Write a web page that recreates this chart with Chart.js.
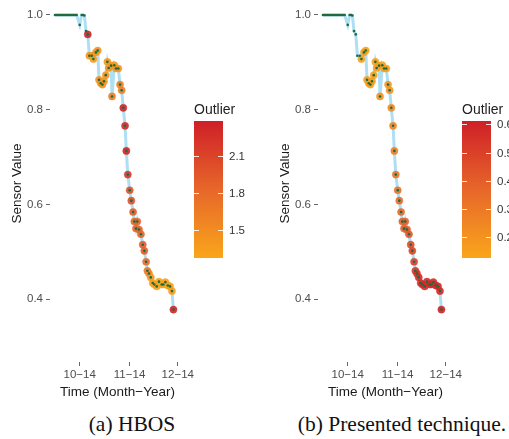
<!DOCTYPE html>
<html>
<head>
<meta charset="utf-8">
<script src="https://cdn.jsdelivr.net/npm/chart.js@4.4.0/dist/chart.umd.min.js"></script>
<style>
html,body{margin:0;padding:0;background:#fff;overflow:hidden;width:509px;height:439px;}
.panel{position:absolute;top:0;}
.cap{position:absolute;top:412px;font-family:'Liberation Serif','Times New Roman',serif;font-size:21.5px;color:#111;text-align:center;width:260px;white-space:nowrap;}
</style>
</head>
<body>
<canvas id="left" class="panel" width="268" height="400" style="left:0"></canvas>
<canvas id="right" class="panel" width="268" height="400" style="left:268px"></canvas>
<div class="cap" style="left:2px">(a) HBOS</div>
<div class="cap" style="left:272px">(b) Presented technique.</div>
<script>
// days counted from 1 Oct 2014
var days = [-15.4,-14.5,-13.6,-12.7,-11.8,-10.9,-10.0,-9.1,-8.2,-7.3,-6.4,-5.5,-4.6,-3.7,-2.8,-1.9,
  0.0,1.2,2.1,2.9,3.9,5.0,6.0,7.5,8.5,10.1,11.2,12.0,13.1,14.1,15.1,16.2,17.2,18.0,19.5,20.1,21.5,22.6,24.0,
  25.1,26.1,27.1,28.2,29.0,29.9,31.1,32.1,33.2,34.0,35.0,35.8,36.9,38.1,39.2,40.2,41.3,42.1,43.1,44.2,
  45.4,46.4,47.9,49.3,51.0,52.0,53.3,54.8,56.2,57.4,58.3];
var sensor = [1.0,1.0,1.0,1.0,1.0,1.0,1.0,1.0,1.0,1.0,1.0,1.0,1.0,1.0,1.0,1.0,
  0.979,1.0,1.0,0.999,0.966,0.959,0.914,0.914,0.907,0.921,0.925,0.863,0.856,0.853,0.860,0.873,0.901,0.888,0.893,0.828,0.894,0.887,0.887,
  0.853,0.841,0.804,0.766,0.713,0.663,0.630,0.608,0.584,0.564,0.549,0.564,0.547,0.537,0.515,0.502,0.479,0.460,0.454,0.446,
  0.434,0.431,0.427,0.437,0.431,0.431,0.436,0.429,0.427,0.417,0.378];
// outlier scores, null = not flagged
var hbos = [null,null,null,null,null,null,null,null,null,null,null,null,null,null,null,null,
  null,null,null,null,null,2.35,1.40,1.40,1.38,1.42,1.42,1.45,1.45,1.45,1.42,1.40,1.40,1.42,1.40,1.62,1.40,1.42,1.42,
  1.60,1.62,2.35,2.30,2.35,2.20,2.00,2.00,1.92,1.85,1.85,1.85,1.85,1.85,1.90,1.90,1.80,1.70,1.55,1.40,
  1.32,1.30,1.30,1.30,1.30,1.30,1.30,1.30,1.30,1.35,2.35];
var presented = [null,null,null,null,null,null,null,null,null,null,null,null,null,null,null,null,
  null,null,null,null,null,null,null,null,0.15,0.15,0.15,0.16,0.16,0.16,0.16,0.15,0.15,0.15,0.15,0.20,0.15,0.15,0.15,
  0.18,0.20,0.24,0.26,0.28,0.31,0.33,0.35,0.37,0.40,0.40,0.40,0.41,0.43,0.46,0.48,0.50,0.53,0.55,0.56,
  0.57,0.57,0.57,0.57,0.57,0.57,0.57,0.57,0.57,0.58,0.61];

var xTickDays = [0, 31, 61];
var xTickLabels = ['10\u221214', '11\u221214', '12\u221214'];
var yTicks = [0.4, 0.6, 0.8, 1.0];
var hbosRange = [1.27, 2.38];
var hbosBarTicks = [1.5, 1.8, 2.1];
var presRange = [0.127, 0.612];
var presBarTicks = [0.2, 0.3, 0.4, 0.5, 0.6];

var stops = [[0, [249,166,27]], [0.5, [231,103,42]], [1, [207,31,39]]];
var FONT = "'Liberation Sans', Arial, sans-serif";

function scoreColor(s, range, a){
    var t = (s - range[0]) / (range[1] - range[0]);
    t = Math.max(0, Math.min(1, t));
    var i = t <= 0.5 ? 0 : 1;
    var f = (t - stops[i][0]) / (stops[i+1][0] - stops[i][0]);
    var c = stops[i][1].map(function(v, k){ return Math.round(v + (stops[i+1][1][k] - v) * f); });
    return 'rgba(' + c[0] + ',' + c[1] + ',' + c[2] + ',' + a + ')';
}

var colorbar = {
    id: 'colorbar',
    afterDraw: function(chart, args, opts){
        var c = chart.ctx;
        var x0 = 194, y0 = 121, w = 29, h = 137;
        c.save();
        var g = c.createLinearGradient(0, y0 + h, 0, y0);
        stops.forEach(function(s){ g.addColorStop(s[0], 'rgb(' + s[1].join(',') + ')'); });
        c.fillStyle = g;
        c.fillRect(x0, y0, w, h);
        c.font = '11.5px ' + FONT;
        c.textBaseline = 'middle';
        c.textAlign = 'left';
        opts.ticks.forEach(function(v){
            var y = Math.round(y0 + h - (v - opts.range[0]) / (opts.range[1] - opts.range[0]) * h) + 0.5;
            c.strokeStyle = 'rgba(255,255,255,0.85)';
            c.lineWidth = 1;
            c.beginPath();
            c.moveTo(x0, y); c.lineTo(x0 + 5, y);
            c.moveTo(x0 + w - 5, y); c.lineTo(x0 + w, y);
            c.stroke();
            c.fillStyle = '#333';
            c.fillText(v.toFixed(1), x0 + w + 6, y);
        });
        c.fillStyle = '#222';
        c.font = '14px ' + FONT;
        c.fillText('Outlier', x0, y0 - 11);
        c.restore();
    }
};

function makeChart(id, scores, range, barTicks){
    var pts = [], rings = [];
    for (var i = 0; i < days.length; i++){
        pts.push({x: days[i], y: sensor[i]});
        if (scores[i] != null) rings.push({x: days[i], y: sensor[i], s: scores[i]});
    }
    var axisGrid = {display: true, drawOnChartArea: false, drawTicks: true, tickLength: 4, color: '#666'};
    return new Chart(document.getElementById(id), {
        type: 'scatter',
        data: {
            datasets: [{
                label: 'dots',
                data: pts,
                pointRadius: 1.3,
                pointBackgroundColor: '#1e6b3f',
                pointBorderWidth: 0,
                order: 0
            }, {
                label: 'outlier',
                data: rings,
                pointRadius: 3.6,
                pointBackgroundColor: function(ctx){ return ctx.raw ? scoreColor(ctx.raw.s, range, 0.9) : 'transparent'; },
                pointBorderColor: function(ctx){ return ctx.raw ? scoreColor(ctx.raw.s, range, 0.4) : 'transparent'; },
                pointBorderWidth: 1,
                order: 1
            }, {
                type: 'line',
                label: 'sensor',
                data: pts,
                borderColor: '#aedff4',
                borderWidth: 3,
                pointRadius: 0,
                tension: 0,
                order: 2
            }]
        },
        options: {
            responsive: false,
            animation: false,
            layout: {padding: {top: 4, right: 83, bottom: 0, left: 0}},
            plugins: {
                legend: {display: false},
                tooltip: {enabled: false},
                colorbar: {range: range, ticks: barTicks}
            },
            scales: {
                x: {
                    type: 'linear',
                    min: -18.5,
                    max: 65.5,
                    grid: axisGrid,
                    border: {display: false},
                    ticks: {
                        color: '#4d4d4d',
                        font: {size: 11.5, family: FONT},
                        padding: 2,
                        maxRotation: 0,
                        autoSkip: false,
                        callback: function(v, i){ return xTickLabels[i]; }
                    },
                    afterBuildTicks: function(s){ s.ticks = xTickDays.map(function(v){ return {value: v}; }); },
                    afterFit: function(s){ s.height = 38; s.paddingLeft = 0; s.paddingRight = 0; },
                    title: {display: true, text: 'Time (Month\u2212Year)', color: '#1a1a1a',
                        font: {size: 13.5, family: FONT}, padding: {top: 2, bottom: 0}}
                },
                y: {
                    type: 'linear',
                    min: 0.26737,
                    max: 1.02105,
                    grid: axisGrid,
                    border: {display: false},
                    ticks: {
                        color: '#4d4d4d',
                        font: {size: 11.5, family: FONT},
                        padding: 3,
                        autoSkip: false,
                        callback: function(v){ return v.toFixed(1); }
                    },
                    afterBuildTicks: function(s){ s.ticks = yTicks.map(function(v){ return {value: v}; }); },
                    afterFit: function(s){ s.width = 50; s.paddingTop = 0; s.paddingBottom = 0; },
                    title: {display: true, text: 'Sensor Value', color: '#1a1a1a',
                        font: {size: 13.5, family: FONT}, padding: {top: 9, bottom: 0}}
                }
            }
        },
        plugins: [colorbar]
    });
}

makeChart('left', hbos, hbosRange, hbosBarTicks);
makeChart('right', presented, presRange, presBarTicks);
</script>
</body>
</html>
